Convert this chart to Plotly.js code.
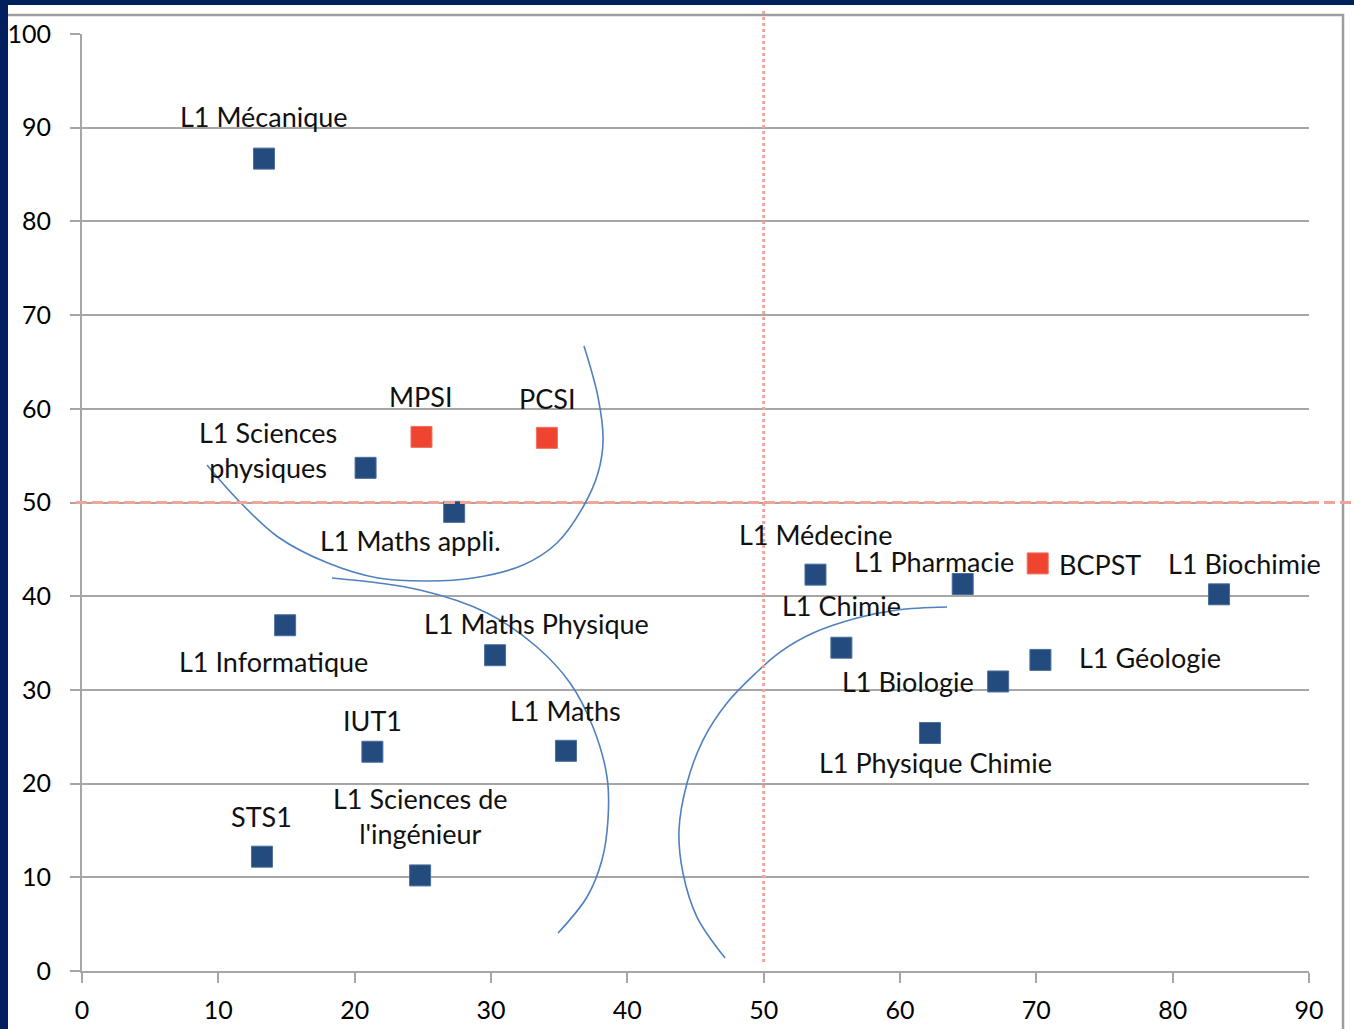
<!DOCTYPE html>
<html>
<head>
<meta charset="utf-8">
<script src="https://cdn.plot.ly/plotly-3.0.1.min.js"></script>
<style>html,body{margin:0;padding:0;background:#00205E;}#chart{width:1354px;height:1029px;}</style>
</head>
<body>
<div id="chart"></div>
<script>
// ---- data ----
const formations = ['L1 Mécanique','MPSI','PCSI','L1 Sciences<br>physiques','L1 Maths appli.','L1 Informatique','L1 Maths Physique','IUT1','L1 Maths','STS1',"L1 Sciences de<br>l'ingénieur",'L1 Médecine','L1 Pharmacie','BCPST','L1 Biochimie','L1 Chimie','L1 Géologie','L1 Biologie','L1 Physique Chimie'];
const xValues = [13.35,24.9,34.1,20.8,27.3,14.9,30.3,21.3,35.5,13.2,24.8,53.8,64.6,70.1,83.4,55.7,70.3,67.2,62.2];
const yValues = [86.7,57.0,56.9,53.7,49.0,36.9,33.7,23.4,23.5,12.2,10.2,42.3,41.3,43.5,40.2,34.5,33.2,30.9,25.4];
const isPrepa = [false,true,true,false,false,false,false,false,false,false,false,false,false,true,false,false,false,false,false];
const xTicks = [0,10,20,30,40,50,60,70,80,90];
const yTicks = [0,10,20,30,40,50,60,70,80,90,100];
const xThreshold = 50;
const yThreshold = 50;
// hand-drawn grouping arcs (data coordinates)
const arc1X = [36.82,37.85,38.22,37.85,36.75,34.84,32.35,28.68,25.38,21.71,18.04,14.38,11.44,9.17];
const arc1Y = [66.70,61.25,56.67,53.15,49.52,45.68,43.33,41.94,41.62,41.94,43.54,46.32,50.27,54.00];
const arc2X = [18.34,24.79,29.71,33.37,35.80,37.48,38.51,38.58,38.14,37.04,34.92];
const arc2Y = [41.94,40.66,38.21,34.58,30.74,26.04,20.70,16.12,11.85,7.90,4.06];
const arc3X = [63.45,59.78,56.85,53.62,51.20,49.51,47.31,45.55,44.38,43.79,44.08,45.11,47.17];
const arc3Y = [38.85,38.53,37.67,36.07,34.04,31.91,28.60,24.65,20.06,15.05,10.46,5.76,1.39];

// ---- label placement (pixel offsets from each point) ----
const labelShiftX = [0,0,0,-98,-44,-12,41,0,0,0,0,0,-29,62,25,0,110,-90,6];
const labelShiftY = [42,40,39,18,-29,-36,32,31,40,40,59,40,23,-1,31,42,2,0,-29];

const BLUE = '#244B7E', RED = '#EE4430', ARC = '#4F81BD', GRID = '#A6A6A6', THR = '#F3A397';
const FONT = 'Lato, "Open Sans", sans-serif';

function pick(arr, flag){ return arr.filter((v,i)=>isPrepa[i]===flag); }

const arcLine = {color:ARC, width:1.6, shape:'spline', smoothing:1};
const traces = [
  {x: arc1X, y: arc1Y, mode:'lines', line:arcLine, hoverinfo:'skip', showlegend:false},
  {x: arc2X, y: arc2Y, mode:'lines', line:arcLine, hoverinfo:'skip', showlegend:false},
  {x: arc3X, y: arc3Y, mode:'lines', line:arcLine, hoverinfo:'skip', showlegend:false},
  {x: pick(xValues,false), y: pick(yValues,false), text: pick(formations,false), mode:'markers', type:'scatter',
   marker:{symbol:'square', size:21, color:BLUE, line:{color:'#4A6E9E', width:1}}, showlegend:false},
  {x: pick(xValues,true), y: pick(yValues,true), text: pick(formations,true), mode:'markers', type:'scatter',
   marker:{symbol:'square', size:21, color:RED, line:{color:'#F07060', width:1}}, showlegend:false}
];

const annotations = formations.map((t,i)=>({
  x: xValues[i], y: yValues[i], xref:'x', yref:'y', text: t, showarrow:false,
  xanchor:'center', yanchor:'middle', xshift: labelShiftX[i], yshift: labelShiftY[i],
  font:{family:FONT, size:27, color:'#111'}
}));

// paper coordinate helpers for the frame (plot area: left 82, right 1309, top 34, bottom 971)
const px = v => (v-82)/1227;
const py = v => (971-v)/937;

const shapes = [
  {type:'rect', xref:'paper', yref:'paper', x0:px(8), x1:px(1360), y0:py(1035), y1:py(5), fillcolor:'#FFFFFF', line:{width:0}, layer:'below'},
  {type:'path', xref:'paper', yref:'paper', path:`M ${px(8)} ${py(15)} L ${px(1343)} ${py(15)} L ${px(1343)} ${py(1035)}`, line:{color:'#9E9E9E', width:2.5}, layer:'below'},
  {type:'line', xref:'paper', yref:'y', x0:px(76), x1:px(1360), y0:yThreshold, y1:yThreshold, line:{color:THR, width:3, dash:'11px,5px'}, layer:'above'},
  {type:'line', xref:'x', yref:'paper', x0:xThreshold, x1:xThreshold, y0:py(962), y1:py(10), line:{color:THR, width:3, dash:'dot'}, layer:'above'}
];

const axisCommon = {
  showline:true, linecolor:GRID, linewidth:2, ticks:'outside', ticklen:10, tickcolor:GRID, tickwidth:2,
  tickfont:{family:FONT, size:25, color:'#000'}, zeroline:false, fixedrange:true
};

const layout = {
  width:1354, height:1029,
  margin:{l:82, r:45, t:34, b:58, pad:0},
  paper_bgcolor:'#00205E', plot_bgcolor:'#FFFFFF',
  showlegend:false,
  xaxis: Object.assign({}, axisCommon, {range:[0,90], tickvals:xTicks, ticktext:xTicks.map(String), showgrid:false, ticklabelstandoff:6}),
  yaxis: Object.assign({}, axisCommon, {range:[0,100], tickvals:yTicks, ticktext:yTicks.map(String), showgrid:true, gridcolor:GRID, gridwidth:2, ticklabelstandoff:14}),
  shapes: shapes,
  annotations: annotations
};

Plotly.newPlot('chart', traces, layout, {displayModeBar:false, staticPlot:true});
</script>
</body>
</html>
